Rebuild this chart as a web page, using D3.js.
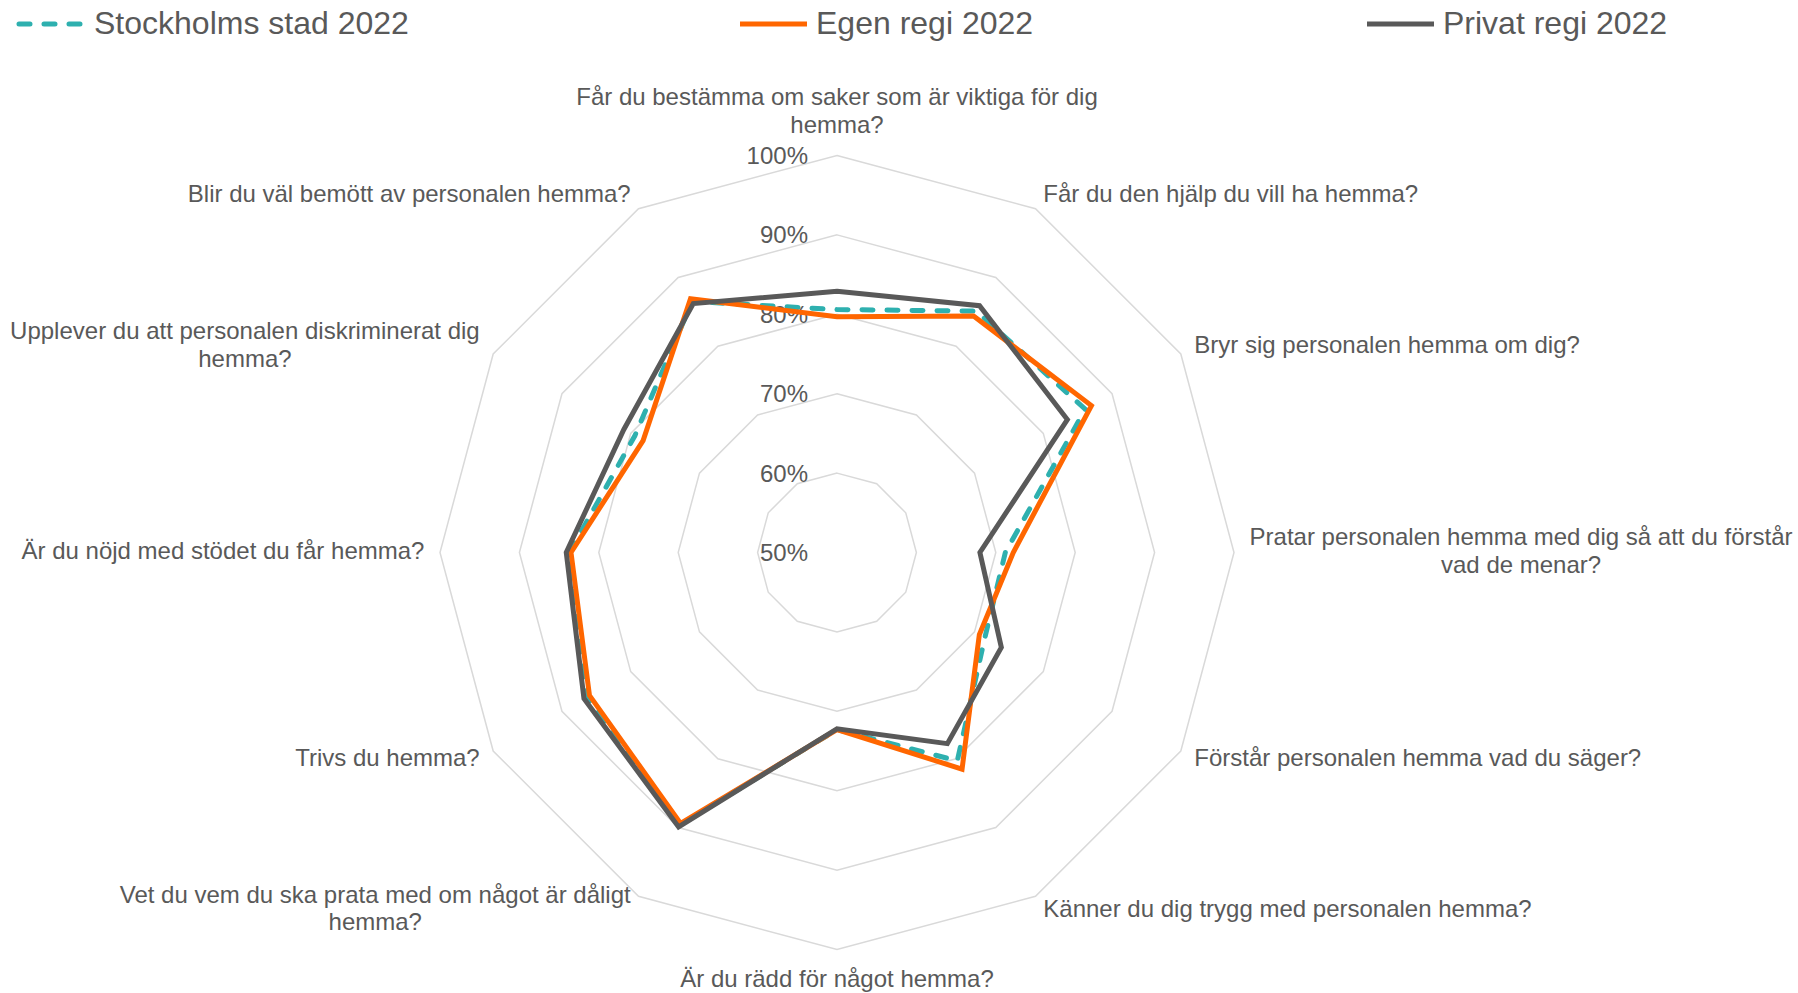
<!DOCTYPE html>
<html>
<head>
<meta charset="utf-8">
<script src="https://cdn.jsdelivr.net/npm/d3@7"></script>
<style>
  body { margin: 0; background: #fff; }
  svg { display: block; font-family: "Liberation Sans", Arial, sans-serif; }
</style>
</head>
<body>
<svg width="1798" height="993"></svg>
<script>
// questions, clockwise from the top ("\n" = line break as in the original)
const categories = [
    "Får du bestämma om saker som är viktiga för dig\nhemma?",
    "Får du den hjälp du vill ha hemma?",
    "Bryr sig personalen hemma om dig?",
    "Pratar personalen hemma med dig så att du förstår\nvad de menar?",
    "Förstår personalen hemma vad du säger?",
    "Känner du dig trygg med personalen hemma?",
    "Är du rädd för något hemma?",
    "Vet du vem du ska prata med om något är dåligt\nhemma?",
    "Trivs du hemma?",
    "Är du nöjd med stödet du får hemma?",
    "Upplever du att personalen diskriminerat dig\nhemma?",
    "Blir du väl bemött av personalen hemma?"
];

const stockholmsStad = [80.6, 85.1, 86.1, 71.2, 71.5, 80.3, 72.3, 89.6, 86.3, 83.7, 79.4, 86.5];
const egenRegi       = [79.7, 84.4, 87.0, 72.2, 70.7, 81.5, 72.3, 89.4, 86.0, 83.5, 78.2, 86.9];
const privatRegi     = [82.9, 85.9, 83.5, 68.0, 73.9, 77.8, 72.2, 89.9, 86.8, 84.1, 81.0, 86.2];

const seriesNames = ["Stockholms stad 2022", "Egen regi 2022", "Privat regi 2022"];
const tickValues = [50, 60, 70, 80, 90, 100];

const svg = d3.select("svg");
const cx = 837, cy = 552.5;
const radius = 397;
const textColor = "#595959";
const fontSize = 24;
const lineH = 27.5;

const r = d3.scaleLinear().domain([50, 100]).range([0, radius]);
const angle = i => i * 2 * Math.PI / categories.length;

const chart = svg.append("g").attr("transform", `translate(${cx}, ${cy})`);

const series = [
    {name: seriesNames[0], values: stockholmsStad, color: "#2EB0AF", dash: "11,14"},
    {name: seriesNames[1], values: egenRegi, color: "#FF6600", dash: null},
    {name: seriesNames[2], values: privatRegi, color: "#595959", dash: null}
];

// grid rings (no spokes in the original)
const ring = d3.lineRadial()
    .angle((d, i) => angle(i))
    .radius(d => r(d))
    .curve(d3.curveLinearClosed);

chart.selectAll(".ring")
    .data(tickValues.filter(t => t > 50))
    .enter()
    .append("path")
    .attr("class", "ring")
    .attr("d", t => ring(categories.map(() => t)))
    .attr("fill", "none")
    .attr("stroke", "#D9D9D9")
    .attr("stroke-width", 1.5);

// tick labels, right aligned left of the vertical axis
chart.selectAll(".tick")
    .data(tickValues)
    .enter()
    .append("text")
    .attr("class", "tick")
    .attr("x", -29)
    .attr("y", t => -r(t))
    .attr("dy", "0.35em")
    .attr("text-anchor", "end")
    .attr("font-size", fontSize)
    .attr("fill", textColor)
    .text(t => t + "%");

// series lines
chart.selectAll(".series")
    .data(series)
    .enter()
    .append("path")
    .attr("class", "series")
    .attr("d", s => ring(s.values))
    .attr("fill", "none")
    .attr("stroke", s => s.color)
    .attr("stroke-width", 5)
    .attr("stroke-linejoin", "miter")
    .attr("stroke-linecap", s => s.dash ? "round" : "butt")
    .attr("stroke-dasharray", s => s.dash);

// category labels
const pad = 15.6;
categories.forEach((label, i) => {
    const a = angle(i);
    const sx = Math.sin(a), sy = -Math.cos(a);
    const px = (r(100) + pad) * sx;
    const py = (r(100) + pad) * sy;
    const lines = label.split("\n");
    let anchor, firstY;
    if (Math.abs(sx) < 0.01) {
        anchor = "middle";
        firstY = sy < 0 ? py - lines.length * lineH + lineH / 2 : py + lineH / 2 + 1.5;
    } else {
        anchor = sx > 0 ? "start" : "end";
        firstY = py - (lines.length - 1) * lineH / 2;
    }
    const t = chart.append("text")
        .attr("font-size", fontSize)
        .attr("fill", textColor)
        .attr("text-anchor", "middle");
    // multi-line blocks are centred on their own width, edge-aligned to the anchor
    const widths = lines.map(l => {
        const m = chart.append("text").attr("font-size", fontSize).text(l);
        const w = m.node().getComputedTextLength();
        m.remove();
        return w;
    });
    const blockW = d3.max(widths);
    let mid;
    if (anchor === "middle") mid = px;
    else if (anchor === "start") mid = px + blockW / 2;
    else mid = px - blockW / 2;
    lines.forEach((l, j) => {
        t.append("tspan")
            .attr("x", mid)
            .attr("y", firstY + j * lineH)
            .attr("dy", "0.28em")
            .text(l);
    });
});

// legend
const legendX = [16, 740, 1367];
const legend = svg.append("g");
series.forEach((s, i) => {
    const g = legend.append("g").attr("transform", `translate(${legendX[i]}, 24)`);
    g.append("line")
        .attr("x1", s.dash ? 3 : 0)
        .attr("x2", s.dash ? 64 : 67)
        .attr("stroke", s.color)
        .attr("stroke-width", 5)
        .attr("stroke-linecap", s.dash ? "round" : "butt")
        .attr("stroke-dasharray", s.dash);
    g.append("text")
        .attr("x", i === 0 ? 78 : 76)
        .attr("y", -1)
        .attr("dy", "0.35em")
        .attr("font-size", 32)
        .attr("fill", textColor)
        .text(s.name);
});
</script>
</body>
</html>
